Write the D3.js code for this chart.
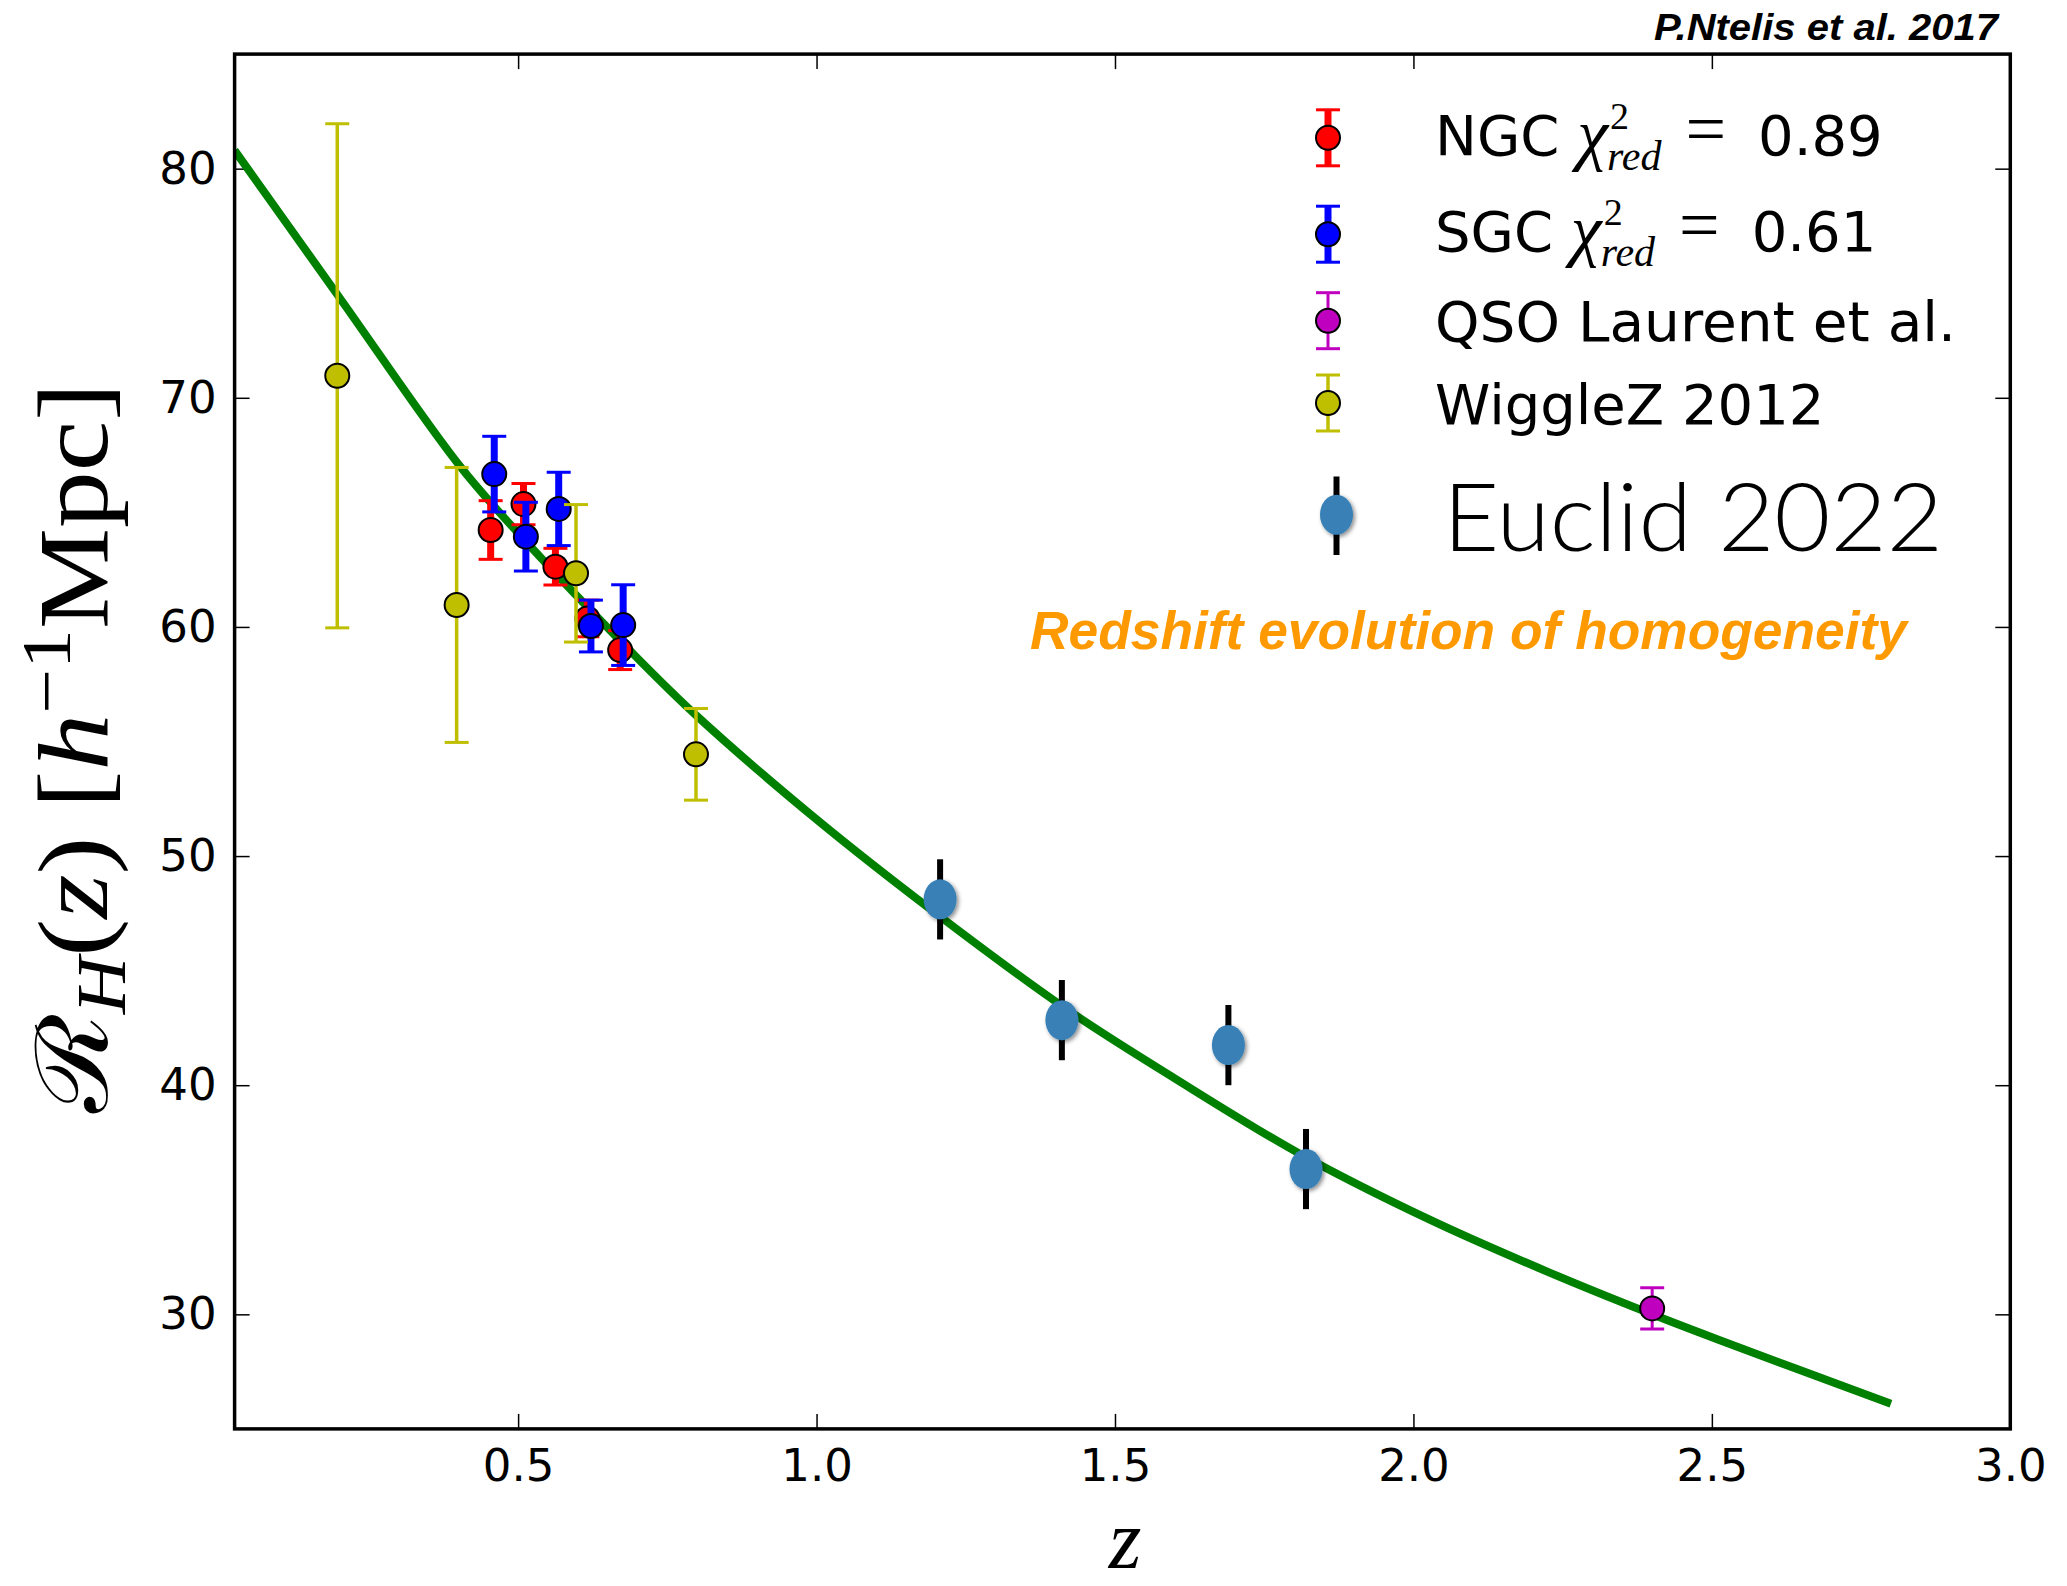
<!DOCTYPE html>
<html>
<head>
	<meta charset="utf-8">
	<title>homogeneityScale</title>
	<style>
		body { margin: 0; background-color: #ffffff; }
	</style>
</head>
<body>

<div id="dataviz"></div>

<script src="https://d3js.org/d3.v7.min.js"></script>

<script>

	// ---- data ----
	var ngcZ   = [0.454, 0.509, 0.5625, 0.616, 0.671];
	var ngcR   = [64.23, 65.36, 62.63, 60.37, 58.99];
	var ngcErr = [1.28, 0.9, 0.8, 0.8, 0.85];

	var sgcZ   = [0.46, 0.513, 0.568, 0.622, 0.676];
	var sgcR   = [66.67, 63.94, 65.15, 60.04, 60.08];
	var sgcErr = [1.65, 1.5, 1.6, 1.13, 1.76];

	var qsoZ   = [2.4];
	var qsoR   = [30.26];
	var qsoErr = [0.9];

	var wigZ   = [0.197, 0.397, 0.597, 0.798];
	var wigR   = [70.96, 60.96, 62.34, 54.44];
	var wigErr = [11.0, 6.0, 3.0, 2.0];

	var eucZ   = [1.207, 1.411, 1.690, 1.820];
	var eucR   = [48.11, 42.84, 41.75, 36.34];
	var eucErr = [1.75, 1.75, 1.75, 1.75];

	// green fit curve
	var fitZ = [0.025, 0.2, 0.4, 0.5, 0.69, 0.8, 1.0, 1.2, 1.42, 1.6, 1.81, 2.03, 2.23, 2.4, 2.51, 2.8];
	var fitR = [80.8, 74.4, 67.1, 64.1, 58.9, 56.1, 51.6, 47.5, 43.3, 40.3, 37.0, 34.1, 31.8, 30.0, 28.9, 26.1];

	var xTicks = [0.5, 1.0, 1.5, 2.0, 2.5, 3.0];
	var yTicks = [30, 40, 50, 60, 70, 80];
	var xDomain = [0.025, 3.0];
	var yDomain = [25, 85];


	var width = 2067;
	var height = 1586;
	var plotL = 234.6, plotR = 2010.3, plotT = 54.1, plotB = 1428.9;

	var svg = d3.select('#dataviz')
		.append('svg')
		.attr('width', width)
		.attr('height', height)
		.style('display', 'block');

	svg.append('rect')
		.attr('width', width)
		.attr('height', height)
		.attr('fill', 'white');

	var defs = svg.append('defs');
	var shadow = defs.append('filter')
		.attr('id', 'shadow')
		.attr('x', '-50%').attr('y', '-50%')
		.attr('width', '200%').attr('height', '200%');
	shadow.append('feDropShadow')
		.attr('dx', 2).attr('dy', 2)
		.attr('stdDeviation', 2)
		.attr('flood-color', '#000')
		.attr('flood-opacity', 0.45);

	var x = d3.scaleLinear().domain(xDomain).range([plotL, plotR]);
	var y = d3.scaleLinear().domain(yDomain).range([plotB, plotT]);

	var tickFont = "'DejaVu Sans', 'Bitstream Vera Sans', sans-serif";
	var serif = "'Liberation Serif', 'Times New Roman', serif";

	// axes (ticks inside, on all four sides)
	function styleAxis(g) {
		g.select('.domain').remove();
		g.selectAll('.tick line').attr('stroke', 'black').attr('stroke-width', 1.5);
		g.selectAll('text')
			.attr('font-family', tickFont)
			.attr('font-size', 45)
			.attr('fill', 'black');
	}

	svg.append('g')
		.attr('transform', 'translate(0,' + plotB + ')')
		.call(d3.axisBottom(x).tickValues(xTicks).tickSize(-15).tickPadding(20)
			.tickFormat(d3.format('.1f')))
		.call(styleAxis);

	svg.append('g')
		.attr('transform', 'translate(0,' + plotT + ')')
		.call(d3.axisTop(x).tickValues(xTicks).tickSize(-15).tickFormat(''))
		.call(styleAxis);

	svg.append('g')
		.attr('transform', 'translate(' + plotL + ',0)')
		.call(d3.axisLeft(y).tickValues(yTicks).tickSize(-15).tickPadding(18))
		.call(styleAxis);

	svg.append('g')
		.attr('transform', 'translate(' + plotR + ',0)')
		.call(d3.axisRight(y).tickValues(yTicks).tickSize(-15).tickFormat(''))
		.call(styleAxis);


	// fit curve
	var plot = svg.append('g');

	var clip = defs.append('clipPath').attr('id', 'plotclip');
	clip.append('rect')
		.attr('x', plotL).attr('y', plotT)
		.attr('width', plotR - plotL).attr('height', plotB - plotT);

	var fitLine = d3.line()
		.x(function(d, i){ return x(fitZ[i]); })
		.y(function(d, i){ return y(fitR[i]); })
		.curve(d3.curveCatmullRom.alpha(0.5));

	plot.append('path')
		.attr('d', fitLine(fitZ))
		.attr('fill', 'none')
		.attr('stroke', '#008000')
		.attr('stroke-width', 8)
		.attr('clip-path', 'url(#plotclip)');


	// error bars + round markers
	function errorSeries(zs, rs, es, color, stemW, capW, capH) {
		var g = plot.append('g');
		zs.forEach(function(z, i){
			var cx = x(z);
			g.append('line')
				.attr('x1', cx).attr('x2', cx)
				.attr('y1', y(rs[i] - es[i])).attr('y2', y(rs[i] + es[i]))
				.attr('stroke', color).attr('stroke-width', stemW);
			[rs[i] - es[i], rs[i] + es[i]].forEach(function(v){
				g.append('line')
					.attr('x1', cx - capW / 2).attr('x2', cx + capW / 2)
					.attr('y1', y(v)).attr('y2', y(v))
					.attr('stroke', color).attr('stroke-width', capH);
			});
		});
		g.selectAll('circle')
			.data(zs)
			.enter()
			.append('circle')
			.attr('cx', function(d){ return x(d); })
			.attr('cy', function(d, i){ return y(rs[i]); })
			.attr('r', 12)
			.attr('fill', color)
			.attr('stroke', 'black')
			.attr('stroke-width', 2);
	}

	errorSeries(ngcZ, ngcR, ngcErr, '#ff0000', 7, 24, 3);
	errorSeries(sgcZ, sgcR, sgcErr, '#0000ff', 7, 24, 3);
	errorSeries(qsoZ, qsoR, qsoErr, '#bf00bf', 3, 24, 3);
	errorSeries(wigZ, wigR, wigErr, '#bfbf00', 3.5, 24, 3);

	// Euclid forecast points
	var euc = plot.append('g');
	euc.selectAll('.eucbar')
		.data(eucZ)
		.enter()
		.append('line')
		.attr('x1', function(d){ return x(d); })
		.attr('x2', function(d){ return x(d); })
		.attr('y1', function(d, i){ return y(eucR[i] - eucErr[i]); })
		.attr('y2', function(d, i){ return y(eucR[i] + eucErr[i]); })
		.attr('stroke', 'black')
		.attr('stroke-width', 6);
	euc.selectAll('.eucdot')
		.data(eucZ)
		.enter()
		.append('ellipse')
		.attr('cx', function(d){ return x(d); })
		.attr('cy', function(d, i){ return y(eucR[i]); })
		.attr('rx', 16.5)
		.attr('ry', 20)
		.attr('fill', '#3780b5')
		.attr('filter', 'url(#shadow)');


	// frame
	svg.append('rect')
		.attr('x', plotL).attr('y', plotT)
		.attr('width', plotR - plotL).attr('height', plotB - plotT)
		.attr('fill', 'none')
		.attr('stroke', 'black')
		.attr('stroke-width', 3.5);


	// legend
	var lg = svg.append('g');

	function legendMark(cy, color, stemW) {
		lg.append('line')
			.attr('x1', 1328).attr('x2', 1328)
			.attr('y1', cy - 28).attr('y2', cy + 28)
			.attr('stroke', color).attr('stroke-width', stemW);
		[cy - 28, cy + 28].forEach(function(v){
			lg.append('line')
				.attr('x1', 1316).attr('x2', 1340)
				.attr('y1', v).attr('y2', v)
				.attr('stroke', color).attr('stroke-width', 3);
		});
		lg.append('circle')
			.attr('cx', 1328).attr('cy', cy).attr('r', 12)
			.attr('fill', color).attr('stroke', 'black').attr('stroke-width', 2);
	}

	function legendText(tx, ty, txt, size) {
		return lg.append('text')
			.attr('x', tx).attr('y', ty)
			.attr('font-family', tickFont)
			.attr('font-size', size)
			.attr('fill', 'black')
			.text(txt);
	}

	// name + chi^2_red = value, built as one text run
	function chiRow(tx, ty, name, val) {
		var t = legendText(tx, ty, name + ' ', 56);
		t.append('tspan')
			.attr('font-family', serif).attr('font-style', 'italic')
			.attr('font-size', 70).attr('dy', 2)
			.text('χ');
		t.append('tspan')
			.attr('font-family', serif).attr('font-size', 38)
			.attr('dx', 2).attr('dy', -28)
			.text('2');
		t.append('tspan')
			.attr('font-family', serif).attr('font-style', 'italic')
			.attr('font-size', 42)
			.attr('dx', -22).attr('dy', 41)
			.text('red');
		t.append('tspan')
			.attr('font-family', serif).attr('font-size', 72)
			.attr('dx', 24).attr('dy', -17)
			.text('=');
		t.append('tspan')
			.attr('font-family', tickFont).attr('font-size', 56)
			.attr('dx', 32).attr('dy', 2)
			.text(val);
	}

	legendMark(137.8, '#ff0000', 7);
	chiRow(1435, 155, 'NGC', '0.89');

	legendMark(234.2, '#0000ff', 7);
	chiRow(1435, 250.7, 'SGC', '0.61');

	legendMark(320.7, '#bf00bf', 3);
	legendText(1435, 340.6, 'QSO Laurent et al.', 56)
		.attr('textLength', 521).attr('lengthAdjust', 'spacingAndGlyphs');

	legendMark(403, '#bfbf00', 3.5);
	legendText(1435, 424, 'WiggleZ 2012', 56);

	lg.append('line')
		.attr('x1', 1336.5).attr('x2', 1336.5)
		.attr('y1', 476.5).attr('y2', 555)
		.attr('stroke', 'black').attr('stroke-width', 6);
	lg.append('ellipse')
		.attr('cx', 1336.5).attr('cy', 514.7)
		.attr('rx', 16.5).attr('ry', 20)
		.attr('fill', '#3780b5')
		.attr('filter', 'url(#shadow)');
	lg.append('text')
		.attr('x', 1443).attr('y', 551)
		.attr('font-family', "Lato, 'Open Sans', sans-serif")
		.attr('font-weight', 300)
		.attr('font-size', 94)
		.attr('textLength', 500)
		.attr('lengthAdjust', 'spacingAndGlyphs')
		.text('Euclid 2022');


	// annotations
	svg.append('text')
		.attr('x', 1998).attr('y', 40)
		.attr('text-anchor', 'end')
		.attr('font-family', "'Liberation Sans', Arial, sans-serif")
		.attr('font-weight', 'bold').attr('font-style', 'italic')
		.attr('font-size', 36)
		.attr('textLength', 344)
		.attr('lengthAdjust', 'spacingAndGlyphs')
		.text('P.Ntelis et al. 2017');

	svg.append('text')
		.attr('x', 1030).attr('y', 649)
		.attr('font-family', "'Liberation Sans', Arial, sans-serif")
		.attr('font-weight', 'bold').attr('font-style', 'italic')
		.attr('font-size', 54)
		.attr('fill', '#ff9900')
		.attr('textLength', 877)
		.attr('lengthAdjust', 'spacingAndGlyphs')
		.text('Redshift evolution of homogeneity');


	// axis titles
	svg.append('text')
		.attr('x', 1125).attr('y', 1568)
		.attr('text-anchor', 'middle')
		.attr('font-family', serif).attr('font-style', 'italic')
		.attr('font-size', 84)
		.text('z');

	var ylab = svg.append('text')
		.attr('transform', 'translate(107,748) rotate(-90)')
		.attr('text-anchor', 'middle')
		.attr('font-family', serif)
		.attr('font-size', 100)
		.attr('textLength', 730)
		.attr('lengthAdjust', 'spacingAndGlyphs');
	ylab.append('tspan').attr('font-family', "'DejaVu Serif', serif").text('ℛ');
	ylab.append('tspan').attr('font-style', 'italic').attr('font-size', 70).attr('dy', 18).text('H');
	ylab.append('tspan').attr('dy', -18).text('(');
	ylab.append('tspan').attr('font-style', 'italic').text('z');
	ylab.append('tspan').text(') [');
	ylab.append('tspan').attr('font-style', 'italic').text('h');
	ylab.append('tspan').attr('font-size', 70).attr('dy', -37).text('−1');
	ylab.append('tspan').attr('dy', 37).text('Mpc]');

</script>

</body>
</html>
